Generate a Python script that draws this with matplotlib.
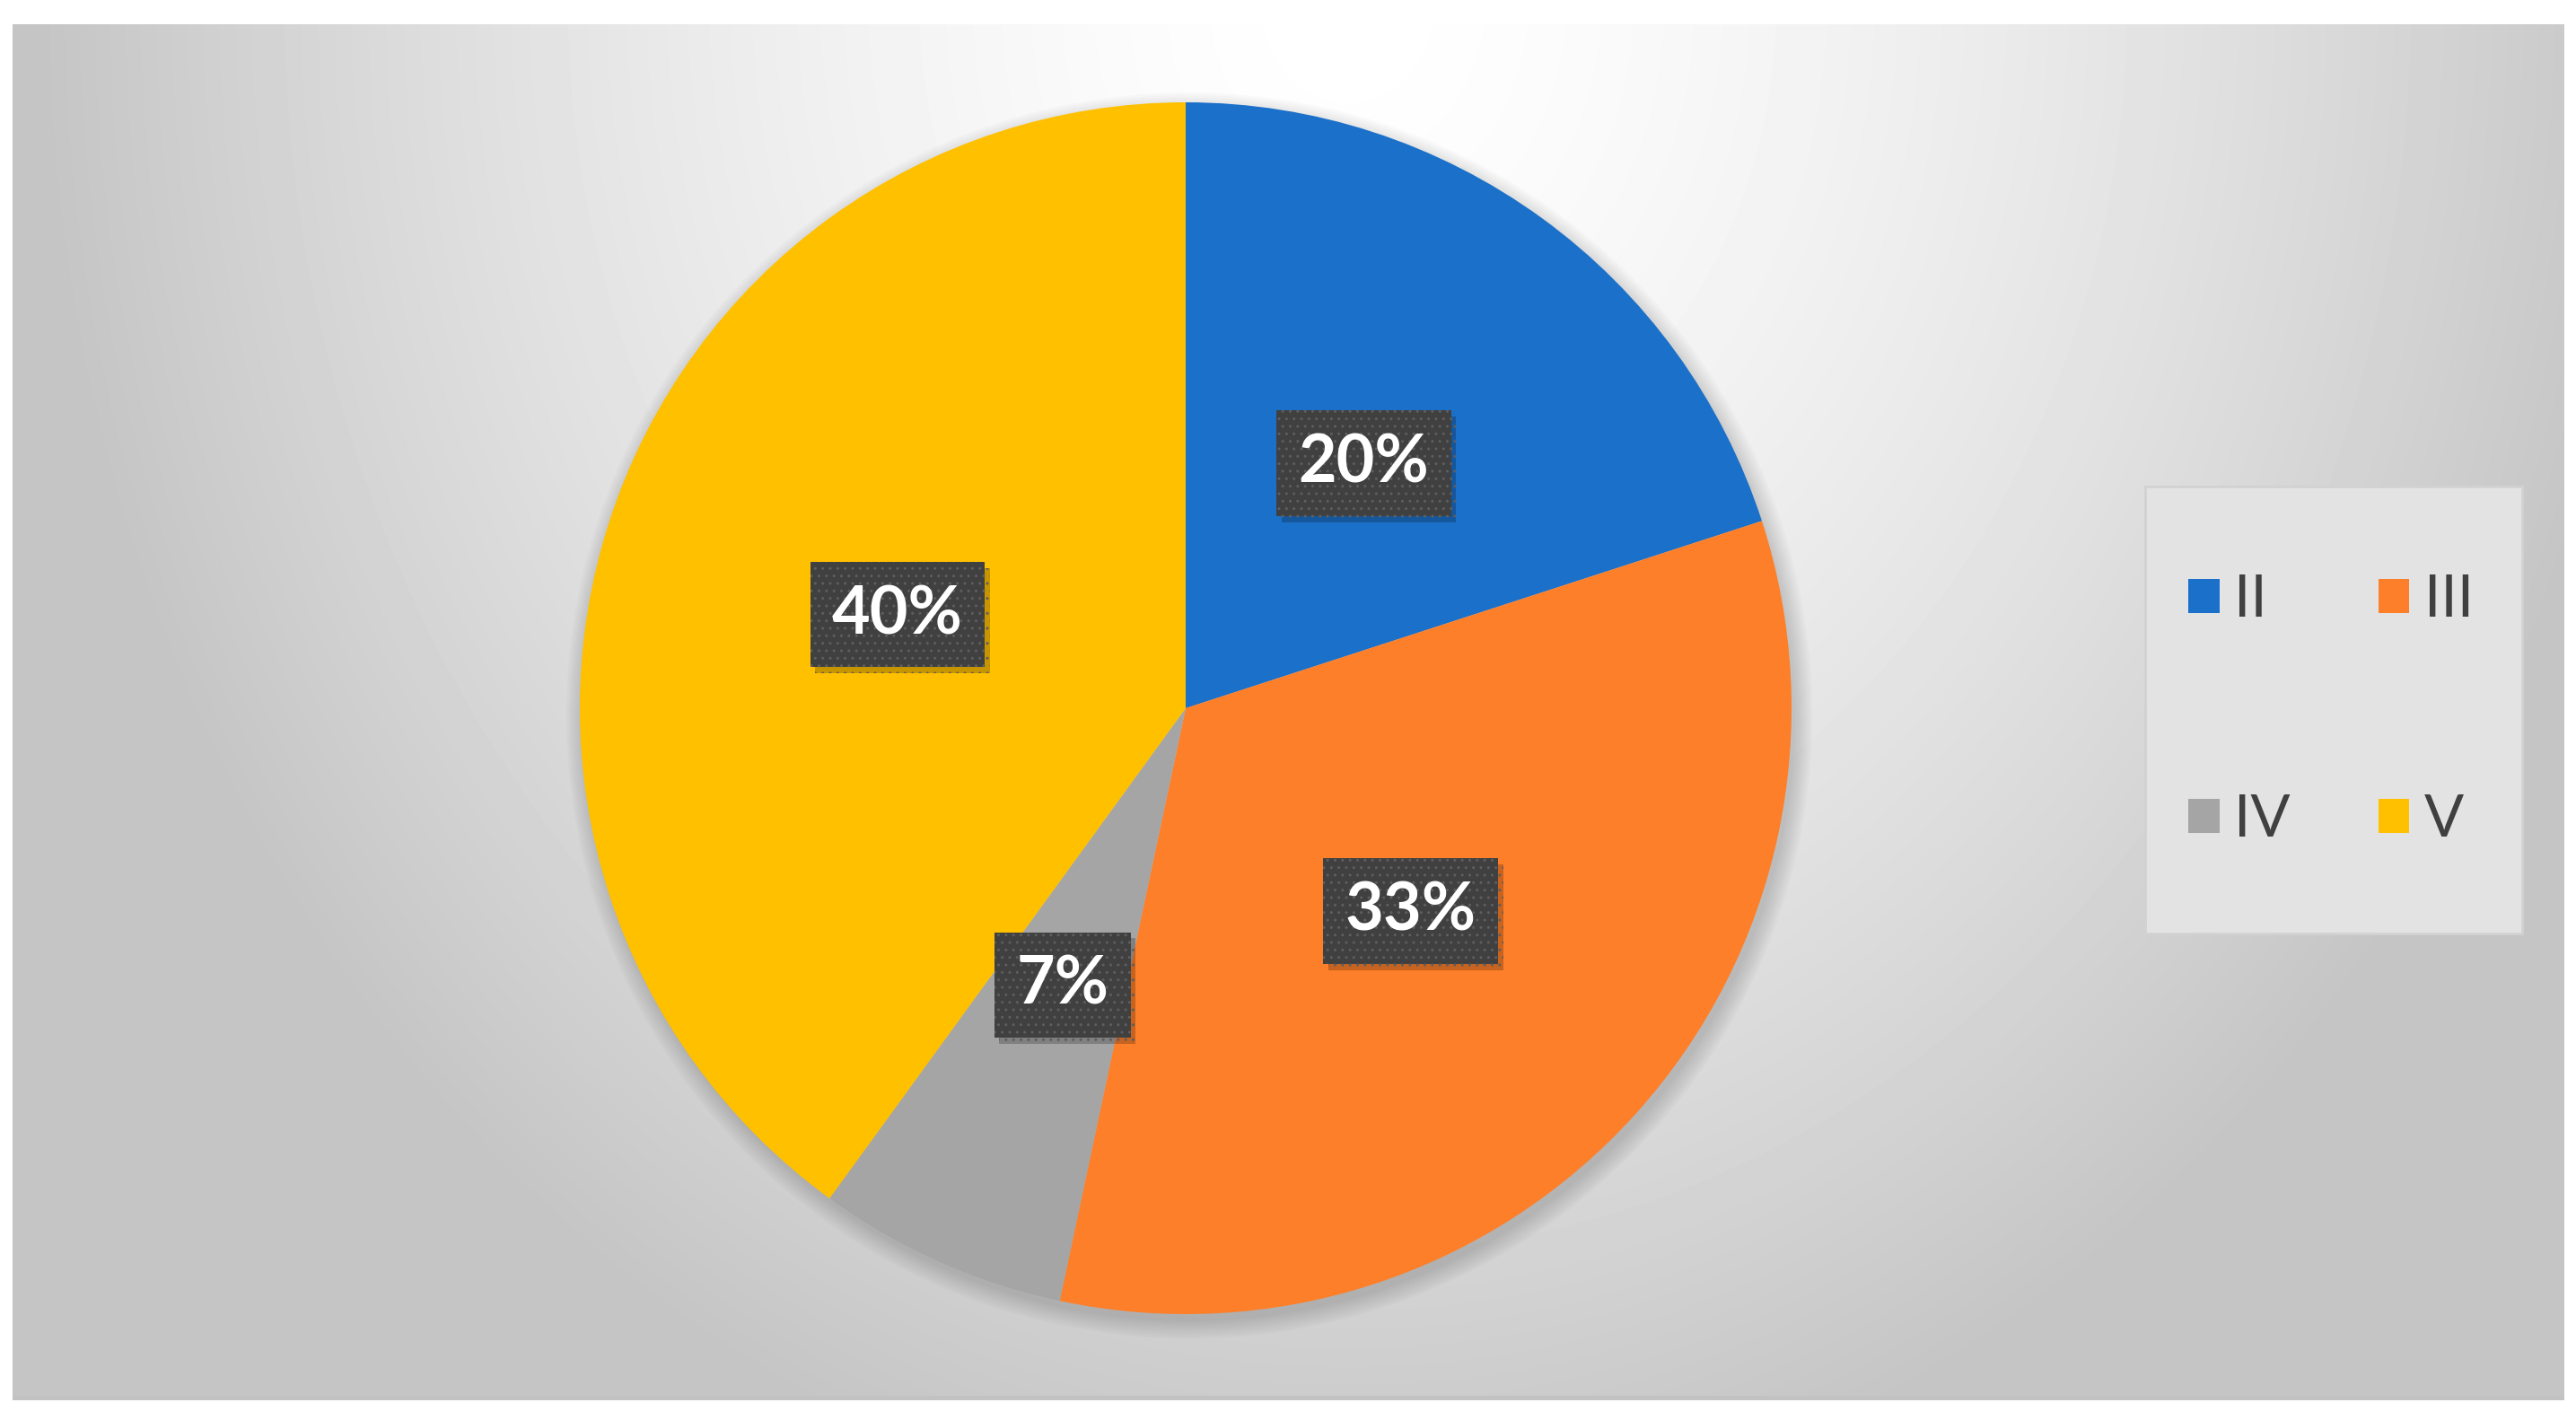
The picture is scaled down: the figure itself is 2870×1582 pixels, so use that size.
import numpy as np
import matplotlib
matplotlib.use('Agg')
import matplotlib.pyplot as plt
from matplotlib.patches import Patch, Rectangle, Circle
import matplotlib.patheffects as pe

# dane wykresu
categories = ['II', 'III', 'IV', 'V']
counts = [6, 10, 2, 12]
colors = ['#1b70c9', '#fe7f29', '#a5a5a5', '#ffc000']

W, H = 2870, 1582
fig = plt.figure(figsize=(W / 100, H / 100), dpi=100)
fig.patch.set_facecolor('white')

# tlo z gradientem (obszar wykresu)
x0, x1, y0, y1 = 14, 2857, 27, 1560
bg = fig.add_axes([x0 / W, 1 - y1 / H, (x1 - x0) / W, (y1 - y0) / H])
xx, yy = np.meshgrid(np.arange(x0, x1, 4), np.arange(y0, y1, 4))
r = np.sqrt(((xx - 1500) / 1400) ** 2 + ((yy - 0) / 1650) ** 2)
val = np.clip(255 - 55 * r ** 1.5, 197, 255) / 255
bg.imshow(val, cmap='gray', vmin=0, vmax=1, aspect='auto', interpolation='bilinear')
bg.set_axis_off()
fig.patches.append(Rectangle((x0 / W, 1 - y1 / H), (x1 - x0) / W, 5 / H,
                             transform=fig.transFigure, fc='#c2c2c2', ec='none', zorder=1))

# kolo
cx, cy, R = 1321, 789, 675
ax = fig.add_axes([(cx - R) / W, 1 - (cy + R) / H, 2 * R / W, 2 * R / H])
ax.set_facecolor('none')

# delikatny cien pod kolem
for k in range(8):
    ax.add_patch(Circle((0.006, -0.012), 1.0 + 0.004 * k, fc='black', ec='none',
                        alpha=0.02, zorder=0, clip_on=False))

wedges, texts, autotexts = ax.pie(
    counts,
    colors=colors,
    startangle=90,
    counterclock=False,
    radius=1,
    autopct=lambda p: f'{p:.0f}%',
    pctdistance=0.5,
    wedgeprops=dict(linewidth=0),
)
ax.set_xlim(-1, 1)
ax.set_ylim(-1, 1)
for w in wedges:
    w.set_zorder(2)

for t in autotexts:
    t.set_fontfamily(['Lato', 'DejaVu Sans'])
    t.set_fontweight('bold')
    t.set_fontsize(53)
    t.set_color('white')
    t.set_zorder(5)
    t.set_bbox(dict(boxstyle='square,pad=0.33', fc='#404040', ec='#5e5e5e', lw=0, hatch='..'))
    t.get_bbox_patch().set_path_effects([
        pe.SimplePatchShadow(offset=(4, -5), shadow_rgbFace='black', alpha=0.22),
        pe.Normal(),
    ])

# legenda (kolejnosc wierszami: II, III / IV, V)
order = [0, 2, 1, 3]
lx0, ly0, lx1, ly1 = 2390, 542, 2810, 1040
fig.patches.append(Rectangle((lx0 / W, 1 - ly1 / H), (lx1 - lx0) / W, (ly1 - ly0) / H,
                             transform=fig.transFigure, fc='#e3e3e3', ec='#d2d2d2', lw=2, zorder=1))
handles = [Patch(facecolor=colors[i], edgecolor='none') for i in order]
fig.legend(
    handles, [categories[i] for i in order],
    loc='center',
    bbox_to_anchor=((lx0 + lx1) / 2 / W - 0.001, 1 - (ly0 + ly1) / 2 / H),
    ncol=2,
    frameon=False,
    prop={'family': ['Lato', 'DejaVu Sans'], 'size': 47},
    labelcolor='#404040',
    handlelength=0.53,
    handleheight=0.53,
    handletextpad=0.25,
    labelspacing=2.85,
    columnspacing=1.5,
)

fig.savefig('out.png', dpi=100, facecolor='white')
